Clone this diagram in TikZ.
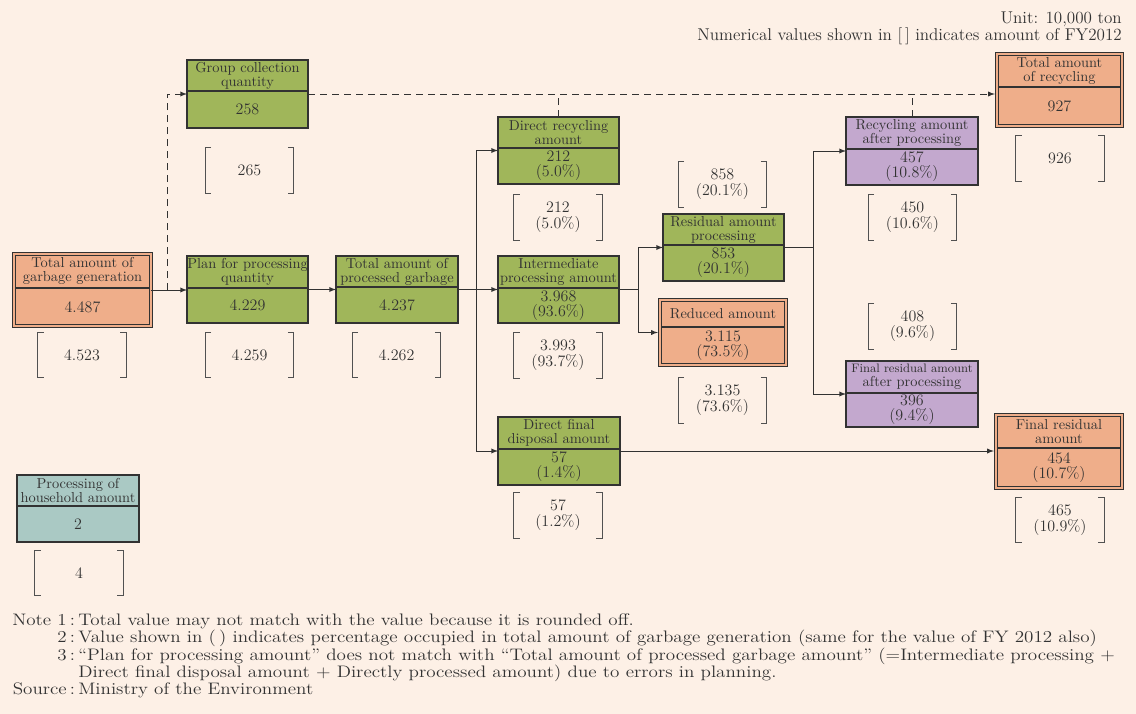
\documentclass[tikz,border=0pt]{standalone}
\usepackage{tikz}
\usetikzlibrary{arrows,calc}

\definecolor{paper}{RGB}{253,240,230}
\definecolor{orangefill}{RGB}{239,174,138}
\definecolor{greenfill}{RGB}{160,182,90}
\definecolor{purplefill}{RGB}{195,168,206}
\definecolor{tealfill}{RGB}{170,201,196}
\definecolor{ink}{RGB}{50,50,50}

% box: style, name, north west corner, width, height, divider, title, value, divider gap
\newcommand{\flowbox}[9]{%
  \node[#1,anchor=north west,minimum width={#4*0.75pt},minimum height={#5*0.75pt}] (#2) at (#3) {};
  \draw[divider,shorten <=#9,shorten >=#9] ($(#2.north west)+(0,#6)$) -- ($(#2.north east)+(0,#6)$);
  \node[titletext] (#2-t) at ($(#2.north)+(0,#6/2)$) {#7};
  \node[valtext] (#2-v) at ($(#2.north)+(0,{(#6+#5)/2})$) {#8};
}
% value of FY2012 in brackets
\newcommand{\prevbox}[3]{%
  \node[prev] (#1) at (#2) {#3};
  \draw[bracket] ([xshift=4.5pt]#1.north west) -- (#1.north west) -- (#1.south west) -- ([xshift=4.5pt]#1.south west);
  \draw[bracket] ([xshift=-4.5pt]#1.north east) -- (#1.north east) -- (#1.south east) -- ([xshift=-4.5pt]#1.south east);
}

\begin{document}
\begin{tikzpicture}[x=0.75pt,y=-0.75pt,>=latex]
\tikzstyle{box}=[draw=ink,line width=0.8pt,inner sep=0pt,outer sep=0pt]
\tikzstyle{greenbox}=[box,fill=greenfill]
\tikzstyle{purplebox}=[box,fill=purplefill]
\tikzstyle{tealbox}=[box,fill=tealfill]
\tikzstyle{orangebox}=[box,fill=orangefill,line width=0.6pt,double=orangefill,double distance=1.9pt]
\tikzstyle{divider}=[draw=ink,line width=0.8pt]
\tikzstyle{titletext}=[align=center,inner sep=0pt,text=ink,font=\fontsize{10.8}{10.5}\selectfont]
\tikzstyle{valtext}=[align=center,inner sep=0pt,text=ink,font=\fontsize{12}{11.3}\selectfont]
\tikzstyle{prev}=[minimum width=66pt,minimum height=34pt,inner sep=0pt,align=center,text=ink,font=\fontsize{12}{12}\selectfont]
\tikzstyle{bracket}=[draw=ink!85,line width=0.8pt]
\tikzstyle{flow}=[draw=ink,line width=0.75pt,->]
\tikzstyle{dashflow}=[flow,dash pattern=on 5pt off 4pt]

\useasboundingbox (0,0) rectangle (1136,714);
\fill[paper] (0,0) rectangle (1136,714);

\node[align=right,anchor=north east,inner sep=0pt,text=ink,font=\fontsize{12.8}{12.75}\selectfont] (unit) at (1122,12)
  {Unit: 10,000 ton\\Numerical values shown in [\,] indicates amount of FY2012};

% boxes
\flowbox{orangebox}{gen}{14,254}{137}{72}{34}{Total amount of\\garbage generation}{4.487}{1.6pt}
\flowbox{greenbox}{plan}{187,256}{121}{67}{32}{Plan for processing\\quantity}{4.229}{0pt}
\flowbox{greenbox}{proc}{336,256}{122}{67}{31}{Total amount of\\processed garbage}{4.237}{0pt}
\flowbox{greenbox}{group}{187,60}{121}{68}{31}{Group collection\\quantity}{258}{0pt}
\flowbox{greenbox}{drecyc}{498,117}{121}{67}{31}{Direct recycling\\amount}{212\\(5.0\%)}{0pt}
\flowbox{greenbox}{inter}{498,256}{121}{67}{32}{Intermediate\\processing amount}{3.968\\(93.6\%)}{0pt}
\flowbox{greenbox}{dfinal}{498,417}{122}{68}{32}{Direct final\\disposal amount}{57\\(1.4\%)}{0pt}
\flowbox{greenbox}{resid}{663,214}{121}{67}{31}{Residual amount\\processing}{853\\(20.1\%)}{0pt}
\flowbox{orangebox}{reduced}{660,300}{126}{65}{27}{Reduced amount}{3.115\\(73.5\%)}{1.6pt}
\flowbox{purplebox}{recafter}{846,117}{132}{68}{32}{Recycling amount\\after processing}{457\\(10.8\%)}{0pt}
\flowbox{purplebox}{fresafter}{846,361}{132}{66}{32}{\fontsize{9.2}{10}\selectfont Final residual amount\\after processing}{396\\(9.4\%)}{0pt}
\flowbox{orangebox}{totrecyc}{997,54}{125}{72}{33}{Total amount\\of recycling}{927}{1.6pt}
\flowbox{orangebox}{fres}{996,415}{126}{73}{33}{Final residual\\amount}{454\\(10.7\%)}{1.6pt}
\flowbox{tealbox}{house}{17,475}{122}{67}{31}{Processing of\\household amount}{2}{0pt}

% FY2012 values
\prevbox{pgen}{82,355}{4.523}
\prevbox{pplan}{249.5,355}{4.259}
\prevbox{pproc}{396.5,355}{4.262}
\prevbox{pgroup}{249.5,170.5}{265}
\prevbox{pdrecyc}{558,217.5}{212\\(5.0\%)}
\prevbox{pinter}{558,355.5}{3.993\\(93.7\%)}
\prevbox{pdfinal}{558,515.5}{57\\(1.2\%)}
\prevbox{presid}{722.5,184.5}{858\\(20.1\%)}
\prevbox{preduced}{722.5,400.5}{3.135\\(73.6\%)}
\prevbox{precafter}{912.5,217.5}{450\\(10.6\%)}
\prevbox{pfresafter}{912.5,326.5}{408\\(9.6\%)}
\prevbox{ptotrecyc}{1060,158.5}{926}
\prevbox{pfres}{1060,520}{465\\(10.9\%)}
\prevbox{phouse}{79,573}{4}

% connectors
\coordinate (jg) at ($(gen.east)+(16,0)$);
\coordinate (jp) at ($(proc.east)+(18,0)$);
\coordinate (ji) at ($(inter.east)+(19,0)$);
\coordinate (jr) at ($(resid.east)+(29,0)$);
\draw[flow] (gen.east) -- (gen.east -| plan.west);
\draw[dashflow] (jg) |- (group.west);
\draw[flow] (plan.east) -- (plan.east -| proc.west);
\draw[flow,-] (proc.east) -- (jp);
\draw[flow] (jp) |- (drecyc.west);
\draw[flow] (jp) -- (jp -| inter.west);
\draw[flow] (jp) |- (dfinal.west);
\draw[flow,-] (inter.east) -- (ji);
\draw[flow] (ji) |- (resid.west);
\draw[flow,shorten >=1.6pt] (ji) |- (reduced.west);
\draw[flow,-] (resid.east) -- (jr);
\draw[flow] (jr) |- (recafter.west);
\draw[flow] (jr) |- (fresafter.west);
\draw[flow,shorten >=1.6pt] (dfinal.east) -- (dfinal.east -| fres.west);
\draw[dashflow,shorten >=1.6pt] (group.east) -- (group.east -| totrecyc.west);
\draw[dashflow,-] (drecyc.north) -- (drecyc.north |- group.east);
\draw[dashflow,-] (recafter.north) -- (recafter.north |- group.east);

% notes
\node[anchor=north west,inner sep=0pt,text=ink,font=\fontsize{12.5}{12.75}\selectfont] (notes) at (12,613)
  {\scalebox{1.145}[1]{\begin{tabular}{@{}r@{\,:\,}l@{}}
   Note 1 & Total value may not match with the value because it is rounded off.\\
   2 & Value shown in (\,) indicates percentage occupied in total amount of garbage generation (same for the value of FY 2012 also)\\
   3 & ``Plan for processing amount'' does not match with ``Total amount of processed garbage amount'' (=Intermediate processing +\\
   \multicolumn{1}{@{}r@{\hphantom{\,:\,}}}{} & Direct final disposal amount + Directly processed amount) due to errors in planning.\\
   Source & Ministry of the Environment
   \end{tabular}}};
\end{tikzpicture}
\end{document}
